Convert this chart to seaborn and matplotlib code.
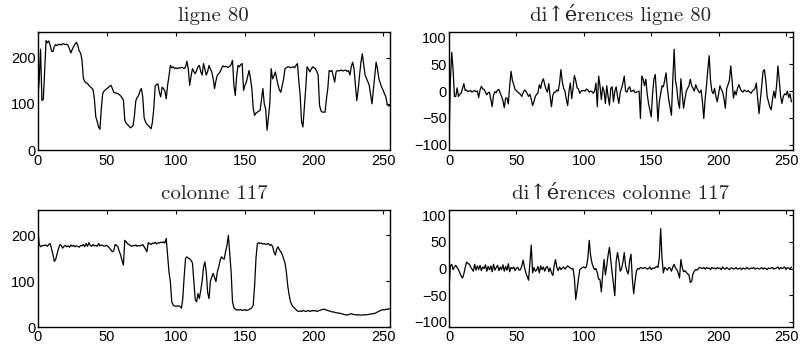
import numpy as np
import pandas as pd
import matplotlib
matplotlib.use("Agg")
import matplotlib.pyplot as plt
import seaborn as sns

# Values
ligne80 = [
    110, 150, 218, 107, 110, 175, 237, 232, 236, 226,
    214, 213, 224, 228, 226, 228, 229, 227, 230, 229,
    228, 229, 226, 218, 210, 218, 224, 229, 233, 226,
    214, 210, 195, 155, 148, 145, 144, 140, 137, 134,
    131, 110, 72, 62, 50, 45, 90, 122, 128, 130,
    133, 135, 138, 140, 133, 125, 124, 123, 122, 120,
    117, 113, 108, 65, 58, 55, 52, 48, 50, 53,
    75, 107, 114, 118, 128, 133, 115, 70, 61, 56,
    53, 50, 46, 60, 90, 138, 142, 143, 125, 115,
    136, 133, 128, 111, 140, 160, 183, 178, 180, 176,
    178, 176, 178, 177, 179, 178, 176, 180, 192, 175,
    140, 160, 176, 170, 165, 172, 180, 183, 170, 162,
    187, 175, 162, 170, 183, 175, 169, 154, 133, 150,
    162, 165, 169, 176, 182, 180, 181, 180, 179, 181,
    185, 194, 140, 118, 160, 183, 180, 185, 187, 129,
    140, 147, 160, 172, 155, 133, 90, 75, 80, 82,
    84, 86, 110, 133, 100, 89, 43, 70, 100, 176,
    154, 160, 169, 155, 140, 130, 125, 140, 154, 176,
    178, 180, 180, 178, 179, 180, 178, 183, 187, 150,
    118, 61, 50, 90, 133, 180, 175, 169, 175, 180,
    178, 176, 170, 162, 97, 85, 82, 82, 82, 110,
    133, 172, 170, 172, 160, 147, 169, 172, 171, 172,
    173, 171, 172, 173, 170, 172, 162, 180, 190, 176,
    140, 107, 130, 162, 190, 208, 185, 162, 155, 148,
    140, 120, 100, 130, 162, 190, 175, 154, 145, 136,
    130, 122, 115, 100, 95, 98,
]

diff_ligne80 = [
    -100, 20, 72, 40, -10, -10, 6, -10, -6, -4,
    5, 14, 1, 2, -1, 0, 1, -2, 0, 1,
    -1, 0, -12, 2, 9, 4, 3, -2, -7, -3,
    -2, -15, -29, -8, -1, -3, 2, 3, -4, -10,
    -18, -31, -13, -13, -24, 10, 37, 20, 12, 3,
    1, -2, -4, -6, -10, -3, 2, 0, -5, -10,
    -6, -15, -27, -20, -10, -6, -3, 12, 5, 18,
    23, 12, 3, -2, 14, -10, -29, -8, -2, -2,
    2, 0, 15, 40, 18, 5, 0, -15, -27, 0,
    15, -14, 5, 29, 20, 6, 4, -4, 0, 1,
    1, 0, 4, 2, -2, 0, -1, -4, 0, 15,
    -29, 28, 10, -16, 8, 0, -23, 10, -10, -26,
    5, 8, -20, 0, 8, -10, -23, -2, 5, 15,
    28, 0, -2, 5, 8, -1, 0, 2, -3, -2,
    -1, 0, -51, 28, 22, 10, 22, -5, -23, -35,
    -48, -5, 22, 31, -10, -56, -20, -5, 10, 8,
    20, 34, 5, -16, -30, -45, 20, 78, 20, 5,
    -20, -32, 23, -5, -32, -15, 0, 5, 10, 22,
    10, 5, 0, 12, 5, 0, -3, 2, -20, -51,
    -15, 10, 40, 66, 20, 0, -5, 5, -10, -20,
    -5, 10, 3, -2, -15, -32, 5, 12, 20, 47,
    20, -13, 0, -7, 5, 12, 5, 0, -2, 2,
    0, -1, 1, -2, -4, 0, 2, 5, 15, -15,
    -42, -15, 10, 37, 40, 20, -10, -20, -30, -35,
    -15, 0, -13, 10, 47, 20, -10, -23, -10, -5,
    -7, 0, -12, -5, -20,
]

colonne117 = [
    220, 180, 175, 178, 177, 179, 178, 176, 180, 182,
    170, 158, 143, 148, 160, 171, 180, 178, 172, 176,
    178, 175, 177, 174, 179, 176, 178, 175, 177, 176,
    174, 178, 177, 180, 175, 182, 176, 184, 178, 176,
    180, 177, 178, 176, 182, 177, 179, 178, 176, 177,
    178, 175, 172, 168, 164, 166, 180, 178, 175, 165,
    157, 145, 135, 189, 186, 182, 180, 178, 176, 178,
    177, 179, 176, 178, 177, 178, 180, 175, 170, 164,
    184, 182, 180, 183, 182, 185, 181, 184, 183, 185,
    184, 186, 183, 193, 157, 120, 99, 55, 48, 46,
    45, 46, 46, 45, 41, 62, 110, 150, 153, 150,
    149, 145, 140, 99, 60, 55, 73, 62, 80, 100,
    130, 142, 120, 75, 62, 100, 109, 117, 108, 99,
    120, 131, 145, 153, 150, 148, 165, 178, 200, 160,
    120, 55, 42, 39, 37, 38, 37, 38, 36, 37,
    38, 36, 37, 38, 40, 42, 48, 90, 150, 182,
    184, 182, 183, 181, 182, 180, 181, 182, 178, 180,
    176, 164, 157, 170, 175, 168, 164, 158, 149, 140,
    120, 90, 70, 55, 48, 44, 41, 38, 35, 34,
    35, 34, 36, 35, 34, 35, 36, 34, 35, 36,
    35, 36, 34, 35, 36, 37, 38, 39, 38, 37,
    36, 35, 34, 33, 33, 32, 31, 31, 30, 30,
    29, 28, 27, 27, 26, 27, 28, 29, 28, 27,
    27, 26, 27, 26, 26, 26, 27, 26, 27, 27,
    28, 28, 29, 29, 30, 31, 33, 34, 36, 37,
    38, 37, 39, 38, 40, 39,
]

diff_colonne117 = [
    -40, 5, 8, -2, 3, 6, 2, -2, -8, -14,
    -18, -10, 2, 12, 10, 8, 3, -1, -5, 8,
    -3, 5, -2, 6, -4, 3, 0, 7, -5, 4,
    -2, 5, -6, 8, -3, 2, 6, -4, 3, -2,
    7, -5, 4, -3, 9, -6, 2, 0, 3, -4,
    1, 2, -3, -2, 5, 16, 2, -8, -15, -22,
    10, 44, -8, 2, -5, -3, 4, -8, 5, -2,
    3, -5, 2, 4, -6, 1, -8, -13, 5, 17,
    2, -4, 3, -2, 1, 3, -1, 2, 5, 3,
    1, -1, 0, -18, -58, -40, -20, -2, 0, 2,
    3, 1, 4, 20, 53, 25, 11, 3, -2, 0,
    -8, -20, -21, -44, -10, 17, -12, 5, 25, 40,
    15, -8, -30, -51, 14, 30, 15, -5, 0, 12,
    30, 5, -5, -10, 15, 27, -20, -47, -24, -5,
    0, -1, 2, 1, 0, 2, 1, -1, 0, 3,
    -2, 1, 0, 2, 4, 2, 20, 75, 20, -8,
    2, 0, -3, 2, 1, -5, 3, 8, 1, -2,
    -8, -18, 17, 2, -6, -4, -7, -10, -12, -26,
    -24, -10, -5, -2, -3, 0, 2, 1, 0, 2,
    -1, 2, 0, 1, -2, 2, 0, 1, -1, 2,
    0, 1, -2, 3, 0, -1, 2, 0, -2, 1,
    1, -1, 0, 2, -1, 0, 1, -2, 1, 0,
    -1, 2, 0, -1, 1, 0, 2, -1, 0, 1,
    -1, 0, 2, -1, 1, 0, -2, 1, 0, 1,
    2, -1, 0, 1, 3, -1, 2, 0, 1, 3,
    -2, 2, 1, -1, 3,
]

titles = ["ligne 80", "di\u2191érences ligne 80",
          "colonne 117", "di\u2191érences colonne 117"]
series = [ligne80, diff_ligne80, colonne117, diff_colonne117]
yticks = [[0, 100, 200], [-100, -50, 0, 50, 100],
          [0, 100, 200], [-100, -50, 0, 50, 100]]
ylims = [(0, 255), (-110, 110), (0, 255), (-110, 110)]

sns.set_theme(style="white")
plt.rcParams["font.family"] = ["Liberation Sans", "DejaVu Sans"]

fig = plt.figure(figsize=(8.04, 3.49), dpi=100)
boxes = [
    [0.047, 0.570, 0.438, 0.338],
    [0.5585, 0.570, 0.4275, 0.338],
    [0.047, 0.063, 0.438, 0.335],
    [0.5585, 0.063, 0.4275, 0.335],
]

for box, title, vals, yt, yl in zip(boxes, titles, series, yticks, ylims):
    ax = fig.add_axes(box)
    df = pd.DataFrame({"x": np.arange(len(vals)), "y": vals})
    sns.lineplot(data=df, x="x", y="y", ax=ax, color="black", linewidth=0.9)
    ax.set_xlim(0, 255)
    ax.set_ylim(*yl)
    ax.set_xticks([0, 50, 100, 150, 200, 250])
    ax.set_yticks(yt)
    ax.set_xlabel("")
    ax.set_ylabel("")
    ax.tick_params(direction="in", top=True, right=True, length=3,
                   width=0.8, labelsize=10.5, colors="black")
    ax.tick_params(axis="x", pad=2.5)
    ax.tick_params(axis="y", pad=1.5)
    for s in ax.spines.values():
        s.set_color("black")
        s.set_linewidth(1.0)
    ax.set_title(title, family=["cmr10", "DejaVu Serif"], fontsize=15,
                 pad=8)

fig.savefig("out.png", dpi=100)
